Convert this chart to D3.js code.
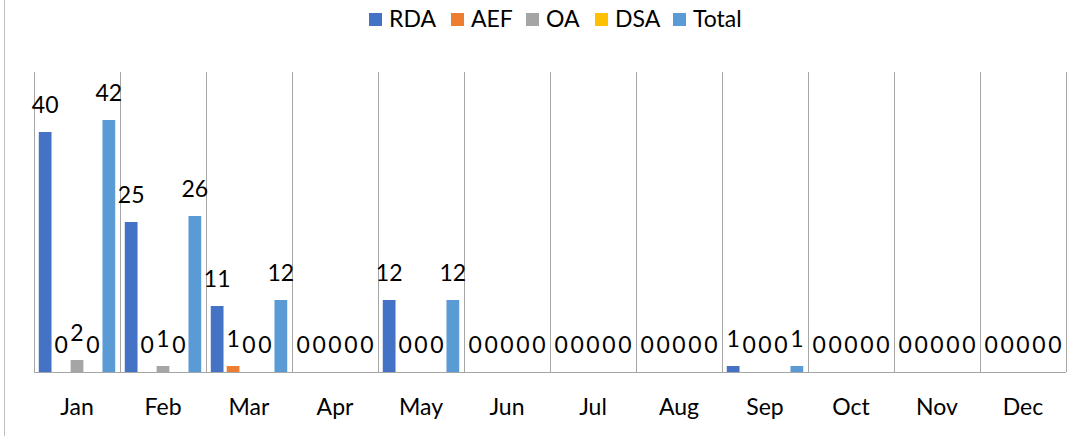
<!DOCTYPE html>
<html>
<head>
<meta charset="utf-8">
<script src="https://cdn.jsdelivr.net/npm/d3@7"></script>
<style>
  body { margin: 0; background: #fff; }
  svg { display: block; font-family: Lato, "Open Sans", sans-serif; }
</style>
</head>
<body>
<svg id="chart" width="1087" height="436"></svg>
<script>
const months = ["Jan", "Feb", "Mar", "Apr", "May", "Jun", "Jul", "Aug", "Sep", "Oct", "Nov", "Dec"];
const seriesNames = ["RDA", "AEF", "OA", "DSA", "Total"];
const rda   = [40, 25, 11, 0, 12, 0, 0, 0, 1, 0, 0, 0];
const aef   = [0, 0, 1, 0, 0, 0, 0, 0, 0, 0, 0, 0];
const oa    = [2, 1, 0, 0, 0, 0, 0, 0, 0, 0, 0, 0];
const dsa   = [0, 0, 0, 0, 0, 0, 0, 0, 0, 0, 0, 0];
const total = [42, 26, 12, 0, 12, 0, 0, 0, 1, 0, 0, 0];
const colors = ["#4472C4", "#ED7D31", "#A5A5A5", "#FFC000", "#5B9BD5"];

const seriesValues = [rda, aef, oa, dsa, total];

const svg = d3.select("#chart");
const plotLeft = 34, plotRight = 1066, plotTop = 72, plotBottom = 372;

const x0 = d3.scaleBand().domain(months).range([plotLeft, plotRight]).padding(0);
const x1 = d3.scaleBand().domain(seriesNames).range([0, x0.bandwidth()])
    .paddingInner(0.2).paddingOuter(0.3);
const y = d3.scaleLinear().domain([0, 50]).range([plotBottom, plotTop]);

// chart border (only left edge shows)
svg.append("line")
    .attr("x1", 4.5).attr("x2", 4.5).attr("y1", 0).attr("y2", 436)
    .attr("stroke", "#BFBFBF").attr("stroke-width", 1);

// category separators
const edges = months.map(m => x0(m)).concat([plotRight]);
svg.selectAll(".sep").data(edges).enter().append("line")
    .attr("class", "sep")
    .attr("x1", d => Math.round(d) + 0.5).attr("x2", d => Math.round(d) + 0.5)
    .attr("y1", plotTop).attr("y2", plotBottom)
    .attr("stroke", "#A6A6A6").attr("stroke-width", 1);

// bars
const rows = [];
months.forEach((m, i) => {
    seriesNames.forEach((s, j) => {
        rows.push({ month: m, series: s, value: seriesValues[j][i], color: colors[j] });
    });
});

svg.selectAll(".bar").data(rows).enter().append("rect")
    .attr("class", "bar")
    .attr("x", d => x0(d.month) + x1(d.series))
    .attr("width", x1.bandwidth())
    .attr("y", d => y(d.value))
    .attr("height", d => plotBottom - y(d.value))
    .attr("fill", d => d.color);

// baseline
svg.append("line")
    .attr("x1", plotLeft).attr("x2", plotRight)
    .attr("y1", plotBottom + 0.5).attr("y2", plotBottom + 0.5)
    .attr("stroke", "#A6A6A6").attr("stroke-width", 1);

// data labels
svg.selectAll(".lbl").data(rows).enter().append("text")
    .attr("class", "lbl")
    .attr("x", d => x0(d.month) + x1(d.series) + x1.bandwidth() / 2)
    .attr("y", d => y(d.value) - 19)
    .attr("text-anchor", "middle")
    .attr("font-size", 23)
    .attr("fill", "#000")
    .text(d => d.value);

// x axis labels
const xAxis = d3.axisBottom(x0).tickSize(0).tickPadding(0);
const gx = svg.append("g").attr("transform", `translate(0,${plotBottom})`).call(xAxis);
gx.select(".domain").remove();
gx.selectAll("text")
    .attr("y", 43).attr("dy", null)
    .attr("font-size", 23)
    .attr("font-family", "Lato, 'Open Sans', sans-serif")
    .attr("fill", "#000");

// legend
const legendX = [369, 451, 526, 595, 673];
const lg = svg.selectAll(".lg").data(seriesNames).enter().append("g")
    .attr("class", "lg")
    .attr("transform", (d, i) => `translate(${legendX[i]},13)`);
lg.append("rect").attr("width", 13).attr("height", 13).attr("fill", (d, i) => colors[i]);
lg.append("text").attr("x", 20).attr("y", 14)
    .attr("font-size", 23).attr("fill", "#000").text(d => d);
</script>
</body>
</html>
